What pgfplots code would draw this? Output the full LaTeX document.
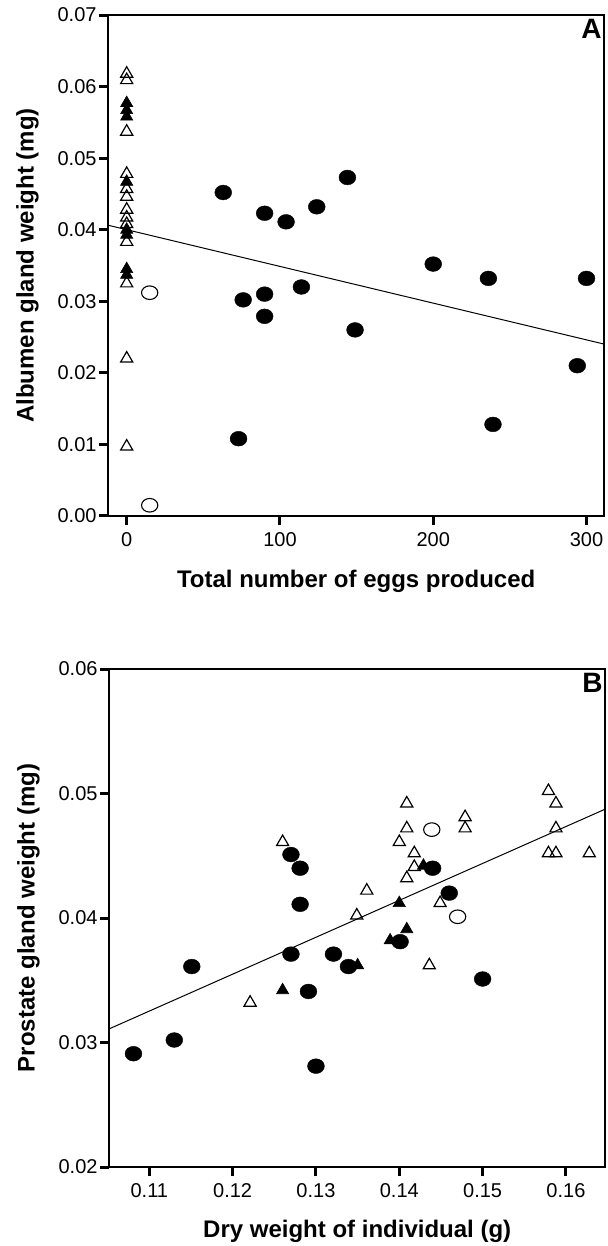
\documentclass[border=0pt]{standalone}
\usepackage{fontspec}
\setmainfont{Liberation Sans}
\usepackage{pgfplots}
\pgfplotsset{compat=1.18}

\pgfplotsset{
  common/.style={
    scale only axis,
    width=247.9pt,
    axis line style={line width=1pt},
    every tick/.style={black, line width=1.5pt},
    major tick length=4.5pt,
    tick align=outside,
    tick pos=left,
    tick label style={font=\fontsize{10}{12}\selectfont, black},
    yticklabel style={inner sep=1.2pt},
    /pgf/number format/assume math mode=true,
    scaled ticks=false,
    clip=false,
    every axis y label/.style={at={(axis description cs:-0.163,0.5)}, rotate=90, anchor=center, font=\bfseries\fontsize{12}{14}\selectfont},
    every axis x label/.style={at={(axis description cs:0.5,-0.13)}, anchor=center, font=\bfseries\fontsize{12}{14}\selectfont},
  },
  fcirc/.style={only marks, mark=*, mark size=3.7pt, mark options={xscale=1.14, fill=black, draw=black, line width=0.2pt}},
  ocirc/.style={only marks, mark=o, mark size=3.4pt, mark options={xscale=1.2, draw=black, line width=0.55pt}},
  otri/.style={only marks, mark=triangle, mark size=3.5pt, mark options={draw=black, line width=0.6pt}},
  ftri/.style={only marks, mark=triangle*, mark size=3.5pt, mark options={fill=black, draw=black, line width=0.3pt}},
}

\begin{document}
\begin{tikzpicture}
% ---------------- Panel A ----------------
\begin{axis}[common,
  name=A, at={(0,0)}, anchor=south west,
  height=250.5pt,
  xmin=-12, xmax=311.5,
  ymin=0, ymax=0.07,
  xtick={0,100,200,300},
  ytick={0,0.01,0.02,0.03,0.04,0.05,0.06,0.07},
  yticklabel style={/pgf/number format/.cd, fixed, fixed zerofill, precision=2},
  xlabel={Total number of eggs produced},
  ylabel={Albumen gland weight (mg)},
]
\addplot[black, line width=0.5pt] coordinates {(-12,0.04062) (311.5,0.02402)};
\addplot[otri] coordinates {
(0,0.0618) (0,0.0609) (0,0.0537) (0,0.0478) (0,0.0457) (0,0.0446)
(0,0.0428) (0,0.0417) (0,0.0408) (0,0.0383) (0,0.0325) (0,0.0220) (0,0.0097)
};
\addplot[ftri] coordinates {
(0,0.0577) (0,0.0567) (0,0.0558) (0,0.0467) (0,0.0400) (0,0.0393) (0,0.0345) (0,0.0337)
};
\addplot[ocirc] coordinates {(15,0.0312) (15,0.0015)};
\addplot[fcirc] coordinates {
(63,0.0452) (90,0.0423) (104,0.0411) (124,0.0432) (144,0.0473)
(200,0.0352) (236,0.0332) (300,0.0332) (114,0.0320) (90,0.0310)
(76,0.0302) (90,0.0279) (149,0.0260) (294,0.0210) (239,0.0128) (73,0.0108)
};
\node[anchor=north east, inner sep=0pt, font=\bfseries\fontsize{14}{14}\selectfont] at ([xshift=-1pt,yshift=-2pt]rel axis cs:1,1) {A};
\end{axis}

% ---------------- Panel B ----------------
\begin{axis}[common,
  name=B, at={(0.5pt,-325.5pt)}, anchor=south west,
  height=249pt,
  xmin=0.1052, xmax=0.1647,
  ymin=0.02, ymax=0.06,
  xtick={0.11,0.12,0.13,0.14,0.15,0.16},
  ytick={0.02,0.03,0.04,0.05,0.06},
  xticklabel style={/pgf/number format/.cd, fixed, fixed zerofill, precision=2},
  yticklabel style={/pgf/number format/.cd, fixed, fixed zerofill, precision=2},
  xlabel={Dry weight of individual (g)},
  ylabel={Prostate gland weight (mg)},
]
\addplot[black, line width=0.5pt] coordinates {(0.1052,0.0311) (0.1647,0.04874)};
\addplot[otri] coordinates {
(0.1260,0.0461) (0.1221,0.0332) (0.1349,0.0402) (0.1361,0.0422) (0.1436,0.0362)
(0.1400,0.0461) (0.1409,0.0472) (0.1409,0.0492) (0.1409,0.0432) (0.1418,0.0441)
(0.1418,0.0452) (0.1449,0.0412) (0.1479,0.0481) (0.1479,0.0472)
(0.1579,0.0502) (0.1588,0.0492) (0.1588,0.0472) (0.1579,0.0452) (0.1588,0.0452) (0.1628,0.0452)
};
\addplot[ftri] coordinates {
(0.1260,0.0342) (0.1350,0.0362) (0.1389,0.0382) (0.1400,0.0412) (0.1409,0.0391) (0.1429,0.0442)
};
\addplot[ocirc] coordinates {(0.1439,0.0471) (0.1470,0.0401)};
\addplot[fcirc] coordinates {
(0.1081,0.0291) (0.1130,0.0302) (0.1151,0.0361) (0.1270,0.0451) (0.1281,0.0440)
(0.1281,0.0411) (0.1270,0.0371) (0.1321,0.0371) (0.1339,0.0361) (0.1291,0.0341)
(0.1300,0.0281) (0.1401,0.0381) (0.1440,0.0440) (0.1460,0.0420) (0.1500,0.0351)
};
\node[anchor=north east, inner sep=0pt, font=\bfseries\fontsize{14}{14}\selectfont] at ([xshift=-1pt,yshift=-2pt]rel axis cs:1,1) {B};
\end{axis}

\pgfresetboundingbox
\path[use as bounding box] (-54.15pt,-365pt) rectangle (249.35pt,258pt);
\end{tikzpicture}
\end{document}
